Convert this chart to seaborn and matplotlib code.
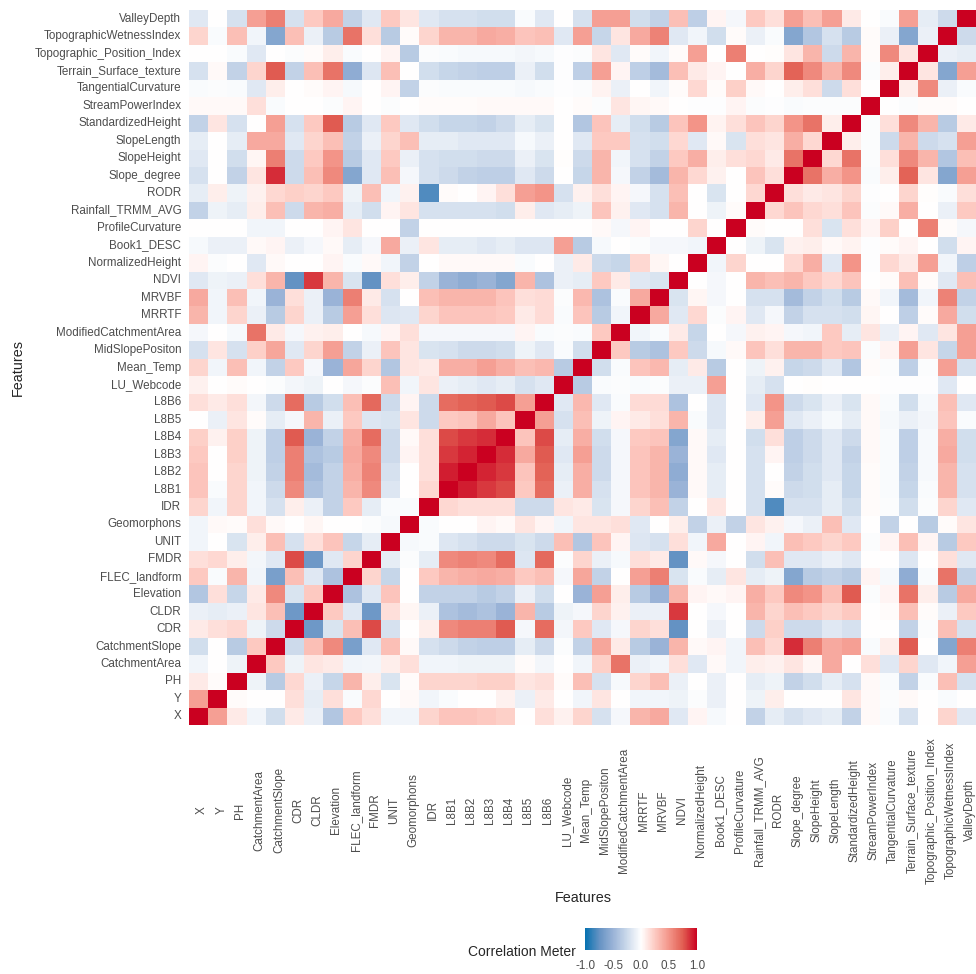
import numpy as np
import pandas as pd
import matplotlib
matplotlib.use("Agg")
import matplotlib.pyplot as plt
import matplotlib.transforms as mtransforms
import seaborn as sns
from matplotlib.colors import LinearSegmentedColormap

features = [
    "X", "Y", "PH", "CatchmentArea", "CatchmentSlope", "CDR", "CLDR",
    "Elevation", "FLEC_landform", "FMDR", "UNIT", "Geomorphons", "IDR",
    "L8B1", "L8B2", "L8B3", "L8B4", "L8B5", "L8B6", "LU_Webcode",
    "Mean_Temp", "MidSlopePositon", "ModifiedCatchmentArea", "MRRTF",
    "MRVBF", "NDVI", "NormalizedHeight", "Book1_DESC", "ProfileCurvature",
    "Rainfall_TRMM_AVG", "RODR", "Slope_degree", "SlopeHeight",
    "SlopeLength", "StandardizedHeight", "StreamPowerIndex",
    "TangentialCurvature", "Terrain_Surface_texture",
    "Topographic_Position_Index", "TopographicWetnessIndex", "ValleyDepth",
]

# lower triangle of the correlation matrix, row i holds corr with features[0..i-1]
lower_tri = [
    [0.45],  # Y
    [0.10, 0.02],  # PH
    [-0.07, 0.00, -0.08],  # CatchmentArea
    [-0.22, 0.00, -0.35, 0.25],  # CatchmentSlope
    [0.10, 0.15, 0.18, -0.08, -0.25],  # CDR
    [-0.10, -0.12, -0.10, 0.12, 0.30, -0.70],  # CLDR
    [-0.38, 0.15, -0.28, 0.10, 0.55, -0.18, 0.25],  # Elevation
    [0.25, -0.03, 0.35, -0.07, -0.65, 0.30, -0.15, -0.40],  # FLEC_landform
    [0.15, 0.18, 0.08, -0.06, -0.15, 0.80, -0.70, -0.15, 0.20],  # FMDR
    [-0.07, 0.00, -0.18, 0.08, 0.30, -0.20, 0.15, 0.28, -0.28, -0.12],  # UNIT
    [-0.07, 0.03, 0.02, 0.15, 0.03, 0.00, 0.04, 0.00, 0.00, -0.02, -0.04],  # Geomorphons
    [0.20, -0.07, 0.20, -0.07, -0.20, 0.08, -0.10, -0.30, 0.25, -0.12, -0.03, -0.03],  # IDR
    [0.28, -0.03, 0.20, -0.07, -0.25, 0.55, -0.40, -0.30, 0.35, 0.55, -0.17, 0.00,
     0.18],  # L8B1
    [0.28, 0.00, 0.20, -0.08, -0.30, 0.60, -0.45, -0.30, 0.38, 0.58, -0.20, 0.00,
     0.15, 0.92],  # L8B2
    [0.25, 0.00, 0.22, -0.08, -0.32, 0.60, -0.40, -0.35, 0.40, 0.55, -0.25, 0.05,
     0.15, 0.85, 0.90],  # L8B3
    [0.22, 0.07, 0.22, -0.08, -0.32, 0.75, -0.50, -0.30, 0.38, 0.68, -0.25, 0.03,
     0.15, 0.80, 0.85, 0.88],  # L8B4
    [0.00, -0.10, 0.12, 0.02, -0.12, -0.05, 0.35, -0.10, 0.25, -0.17, -0.18, 0.12,
     -0.25, 0.25, 0.28, 0.40, 0.28],  # L8B5
    [0.15, 0.10, 0.15, -0.06, -0.25, 0.68, -0.35, -0.22, 0.30, 0.70, -0.25, 0.05,
     -0.25, 0.68, 0.72, 0.75, 0.80, 0.45],  # L8B6
    [0.07, 0.00, 0.02, 0.00, -0.02, -0.06, -0.08, 0.00, -0.05, -0.02, 0.30, -0.07,
     0.12, -0.10, -0.12, -0.15, -0.12, -0.20, -0.15],  # LU_Webcode
    [0.20, -0.07, 0.30, -0.07, -0.30, 0.25, -0.05, -0.50, 0.42, 0.20, -0.38, 0.12,
     0.10, 0.38, 0.38, 0.45, 0.38, 0.30, 0.33, -0.35],  # Mean_Temp
    [-0.20, 0.12, -0.20, 0.22, 0.42, -0.15, 0.20, 0.45, -0.30, -0.10, 0.28, 0.12,
     -0.18, -0.20, -0.25, -0.25, -0.22, -0.08, -0.15, -0.03, -0.22],  # MidSlopePositon
    [-0.05, 0.00, -0.04, 0.65, 0.10, -0.05, 0.07, 0.08, 0.00, -0.04, 0.05, 0.15,
     -0.05, -0.05, -0.05, -0.05, -0.05, 0.05, -0.03, -0.02, -0.03, 0.25],  # ModifiedCatchmentArea
    [0.35, -0.07, 0.20, -0.10, -0.35, 0.20, -0.10, -0.35, 0.45, 0.15, -0.17, -0.15,
     0.20, 0.28, 0.28, 0.28, 0.25, 0.10, 0.17, -0.03, 0.28, -0.35, -0.07],  # MRRTF
    [0.40, -0.07, 0.30, -0.07, -0.50, 0.15, -0.10, -0.50, 0.60, 0.10, -0.20, 0.00,
     0.30, 0.35, 0.35, 0.35, 0.28, 0.15, 0.17, -0.02, 0.33, -0.40, -0.03, 0.40],  # MRVBF
    [-0.15, -0.08, -0.10, 0.15, 0.35, -0.75, 0.85, 0.35, -0.18, -0.75, 0.15, 0.08,
     -0.30, -0.50, -0.55, -0.50, -0.60, 0.35, -0.40, -0.10, -0.12, 0.25, 0.10,
     -0.15, -0.18],  # NDVI
    [0.05, -0.02, 0.00, -0.15, 0.03, 0.00, 0.00, 0.05, -0.03, 0.03, -0.07, -0.30,
     0.00, 0.03, 0.03, 0.03, 0.03, -0.03, 0.00, -0.10, 0.10, -0.25, -0.28, 0.18,
     0.04, 0.00],  # NormalizedHeight
    [-0.04, -0.10, -0.10, 0.03, 0.05, -0.10, -0.05, 0.03, -0.12, -0.05, 0.40, -0.10,
     0.12, -0.12, -0.12, -0.15, -0.12, -0.17, -0.17, 0.45, -0.35, -0.04, 0.00,
     -0.02, -0.05, -0.05, -0.07],  # Book1_DESC
    [0.00, 0.00, 0.00, -0.07, -0.07, 0.00, 0.00, 0.05, 0.12, 0.00, 0.00, -0.30,
     0.00, 0.00, 0.00, 0.00, 0.00, 0.00, 0.00, 0.00, 0.00, 0.03, -0.05, 0.05,
     0.00, 0.00, 0.20, 0.00],  # ProfileCurvature
    [-0.30, -0.08, -0.12, 0.08, 0.30, -0.25, 0.35, 0.38, -0.12, -0.22, 0.05, 0.12,
     -0.20, -0.20, -0.20, -0.20, -0.22, 0.08, -0.15, -0.12, -0.08, 0.28, 0.07,
     -0.15, -0.20, 0.35, 0.00, -0.08, 0.02],  # Rainfall_TRMM_AVG
    [-0.12, 0.08, -0.08, 0.07, 0.18, 0.22, 0.20, 0.25, -0.08, 0.30, -0.07, 0.07,
     -0.80, 0.02, 0.00, 0.05, 0.15, 0.45, 0.50, -0.20, 0.07, 0.15, 0.05, -0.05,
     -0.20, 0.30, 0.00, -0.18, 0.00, 0.18],  # RODR
    [-0.20, 0.00, -0.30, 0.12, 0.88, -0.25, 0.30, 0.55, -0.60, -0.15, 0.30, -0.05,
     -0.20, -0.25, -0.30, -0.32, -0.32, -0.15, -0.25, 0.00, -0.28, 0.35, -0.05,
     -0.30, -0.45, 0.35, 0.18, 0.07, 0.00, 0.28, 0.15],  # Slope_degree
    [-0.15, 0.00, -0.22, 0.04, 0.60, -0.25, 0.25, 0.50, -0.35, -0.15, 0.25, -0.10,
     -0.20, -0.22, -0.22, -0.25, -0.25, -0.10, -0.18, 0.01, -0.25, 0.35, -0.07,
     -0.20, -0.30, 0.25, 0.38, 0.08, 0.15, 0.18, 0.10, 0.65],  # SlopeHeight
    [-0.12, 0.00, -0.12, 0.40, 0.40, -0.15, 0.20, 0.30, -0.30, -0.10, 0.20, 0.30,
     -0.12, -0.12, -0.15, -0.15, -0.15, -0.04, -0.10, 0.00, -0.15, 0.25, 0.25,
     -0.20, -0.22, 0.18, -0.15, 0.03, -0.18, 0.15, 0.12, 0.38, 0.18],  # SlopeLength
    [-0.30, 0.12, -0.20, 0.00, 0.45, -0.20, 0.25, 0.75, -0.35, -0.15, 0.25, -0.15,
     -0.22, -0.28, -0.28, -0.30, -0.25, -0.12, -0.18, 0.00, -0.38, 0.28, -0.12,
     -0.22, -0.35, 0.28, 0.50, 0.06, 0.15, 0.28, 0.20, 0.50, 0.65, 0.08],  # StandardizedHeight
    [0.03, 0.03, 0.03, 0.15, -0.03, 0.00, 0.00, -0.02, 0.05, 0.00, -0.02, 0.00,
     0.02, 0.02, 0.02, 0.03, 0.03, 0.03, 0.03, 0.00, 0.02, -0.02, 0.12, 0.04,
     0.03, 0.00, -0.01, -0.01, 0.05, -0.02, -0.01, -0.03, -0.02, -0.02, -0.02],  # StreamPowerIndex
    [-0.03, -0.02, -0.03, -0.15, 0.08, 0.00, 0.02, 0.05, -0.04, 0.00, 0.05, -0.30,
     -0.02, -0.03, -0.03, -0.03, -0.03, -0.04, -0.03, -0.01, -0.02, 0.06, -0.10,
     0.00, -0.07, 0.02, 0.18, 0.02, 0.22, 0.03, 0.00, 0.08, 0.15, -0.25, 0.15,
     0.00],  # TangentialCurvature
    [-0.20, 0.03, -0.30, 0.20, 0.75, -0.30, 0.30, 0.65, -0.55, -0.17, 0.30, 0.00,
     -0.22, -0.28, -0.30, -0.32, -0.32, -0.10, -0.22, -0.01, -0.32, 0.45, 0.05,
     -0.32, -0.45, 0.30, 0.10, 0.05, 0.00, 0.38, 0.20, 0.72, 0.55, 0.35, 0.55,
     -0.02, 0.08],  # Terrain_Surface_texture
    [0.00, 0.00, -0.03, -0.15, 0.00, -0.02, 0.02, 0.08, -0.03, 0.00, 0.05, -0.35,
     -0.02, -0.03, -0.04, -0.04, -0.04, -0.06, -0.04, -0.01, -0.02, 0.12, -0.15,
     0.02, -0.07, 0.02, 0.45, 0.00, 0.60, 0.00, 0.01, 0.12, 0.35, -0.25, 0.35,
     0.02, 0.55, 0.12],  # Topographic_Position_Index
    [0.20, -0.03, 0.30, -0.07, -0.60, 0.30, -0.10, -0.35, 0.65, 0.15, -0.35, 0.02,
     0.20, 0.35, 0.35, 0.40, 0.38, 0.28, 0.30, -0.15, 0.45, -0.28, 0.12, 0.40,
     0.58, -0.15, -0.07, -0.22, 0.02, -0.10, -0.03, -0.60, -0.38, -0.20, -0.35,
     0.02, -0.10, -0.60, -0.10],  # TopographicWetnessIndex
    [-0.15, 0.00, -0.20, 0.45, 0.60, -0.20, 0.25, 0.40, -0.30, -0.15, 0.25, 0.12,
     -0.15, -0.20, -0.20, -0.22, -0.22, -0.03, -0.15, 0.00, -0.20, 0.45, 0.45,
     -0.22, -0.30, 0.30, -0.32, 0.05, -0.05, 0.25, 0.15, 0.45, 0.30, 0.45, 0.10,
     0.00, -0.03, 0.45, -0.12, -0.25],  # ValleyDepth
]

colorbar_ticks = [-1.0, -0.5, 0.0, 0.5, 1.0]

n = len(features)
corr = np.eye(n)
for i, row in enumerate(lower_tri, start=1):
    for j, v in enumerate(row):
        corr[i, j] = v
        corr[j, i] = v
df = pd.DataFrame(corr, index=features, columns=features)

# blue - white - red, interpolated roughly like ggplot's gradient2
cmap = LinearSegmentedColormap.from_list("corr", [
    (0.00, "#0571B0"), (0.125, "#6492C3"), (0.25, "#9AB3D7"), (0.375, "#CCDAEB"),
    (0.50, "#FFFFFF"), (0.625, "#FDCAC2"), (0.75, "#F39589"), (0.875, "#E15E52"),
    (1.00, "#CA0020"),
])

sns.set_style("white")
plt.rcParams["font.family"] = ["Liberation Sans", "DejaVu Sans"]

W, H = 976, 974
fig = plt.figure(figsize=(W / 100, H / 100), dpi=100)
ax = fig.add_axes([189 / W, 1 - 725 / H, (976 - 189) / W, 715 / H])
cax = fig.add_axes([585 / W, 1 - 950 / H, 112 / W, 22 / H])

sns.heatmap(
    df.iloc[::-1],
    ax=ax,
    cmap=cmap,
    vmin=-1,
    vmax=1,
    xticklabels=True,
    yticklabels=True,
    cbar_ax=cax,
    cbar_kws={"orientation": "horizontal", "ticks": colorbar_ticks},
)

grey30 = "#4D4D4D"
ax.tick_params(axis="both", length=3.5, width=0.8, color="#333333",
               labelsize=8.4, labelcolor=grey30)
ax.tick_params(axis="y", pad=2)
ax.tick_params(axis="x", pad=58)
ax.set_xticklabels(features, rotation=90, ha="center", va="center")
ax.set_yticklabels(features[::-1], rotation=0)
shift = mtransforms.ScaledTranslation(3.5 / 100, 0, fig.dpi_scale_trans)
for lab in ax.get_xticklabels():
    lab.set_transform(lab.get_transform() + shift)
ax.set_xlabel("")
ax.set_ylabel("")

cbar = ax.collections[0].colorbar
cbar.outline.set_visible(False)
cax.tick_params(axis="x", which="both", top=True, bottom=True, direction="in",
                color="white", length=4, width=0.8, labelsize=8.4,
                labelcolor=grey30, pad=7)
cax.set_xticklabels(["-1.0", "-0.5", "0.0", "0.5", "1.0"])

fig.text(583 / W, 1 - 898 / H, "Features", ha="center", va="center", fontsize=10.4)
fig.text(18 / W, 1 - 367 / H, "Features", ha="center", va="center",
         rotation=90, fontsize=10.4)
fig.text(576 / W, 1 - 952 / H, "Correlation Meter", ha="right", va="center",
         fontsize=10)

fig.savefig("out.png", dpi=100)
